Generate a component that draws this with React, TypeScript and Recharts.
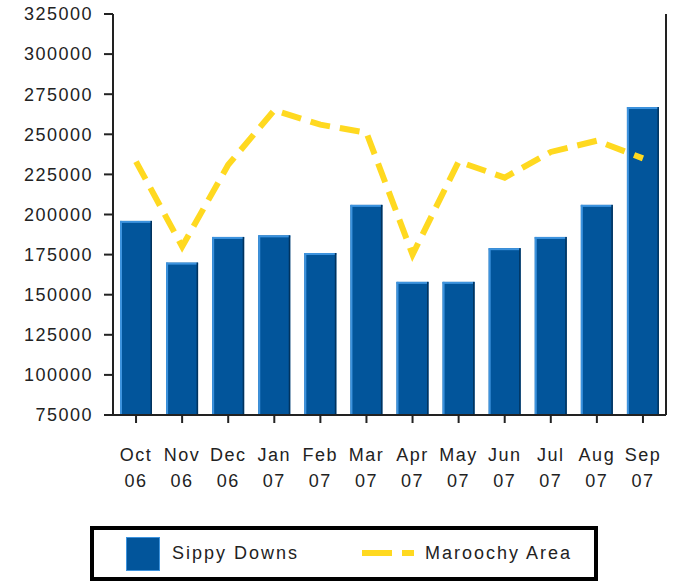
import React from 'react';
import {
  ComposedChart,
  Bar,
  Line,
  XAxis,
  YAxis,
  Legend
} from 'recharts';

const months = ['Oct', 'Nov', 'Dec', 'Jan', 'Feb', 'Mar', 'Apr', 'May', 'Jun', 'Jul', 'Aug', 'Sep'];
const years = ['06', '06', '06', '07', '07', '07', '07', '07', '07', '07', '07', '07'];
const sippyDowns = [196000, 170000, 186000, 187000, 176000, 206000, 158000, 158000, 179000, 186000, 206000, 267000];
const maroochyArea = [233000, 180000, 231000, 265000, 256000, 251000, 175000, 233000, 223000, 239000, 246000, 235000];
const yTicks = [75000, 100000, 125000, 150000, 175000, 200000, 225000, 250000, 275000, 300000, 325000];

const data = months.map((m, i) => ({
  label: `${m} ${years[i]}`,
  sippy: sippyDowns[i],
  maroochy: maroochyArea[i]
}));

const FONT = '"Liberation Sans", Arial, sans-serif';
const BLUE = '#02559b';
const YELLOW = '#ffd920';

const MonthTick = (props: any) => {
  const { x, y, payload } = props;
  const [m, yr] = String(payload.value).split(' ');
  return (
    <g>
      <text x={x} y={y + 36} textAnchor="middle" fontFamily={FONT} fontSize={18} letterSpacing={1.5} fill="#222">{m}</text>
      <text x={x} y={y + 62} textAnchor="middle" fontFamily={FONT} fontSize={18} letterSpacing={1.5} fill="#222">{yr}</text>
    </g>
  );
};

const BarShape = (props: any) => {
  const { x, y, width, height } = props;
  if (!height || height <= 0) return null;
  return (
    <g>
      <rect x={x} y={y} width={width} height={height} fill={BLUE} />
      <rect x={x} y={y} width={2} height={height} fill="#3d93de" />
      <rect x={x} y={y} width={width} height={2} fill="#3d93de" />
      <rect x={x + width - 1.5} y={y} width={1.5} height={height} fill="#01335e" />
    </g>
  );
};

const LegendBox = () => (
  <div style={{
    boxSizing: 'border-box',
    width: 508,
    height: 55,
    border: '4px solid #000',
    position: 'relative',
    fontFamily: FONT,
    fontSize: 18,
    letterSpacing: 2,
    color: '#222'
  }}>
    <div style={{ position: 'absolute', left: 32, top: 7, width: 34, height: 34, background: BLUE, border: '1px solid #3d93de', boxSizing: 'border-box' }} />
    <span style={{ position: 'absolute', left: 78, top: 13 }}>Sippy Downs</span>
    <svg style={{ position: 'absolute', left: 268, top: 18 }} width={52} height={10}>
      <line x1={0} y1={5} x2={52} y2={5} stroke={YELLOW} strokeWidth={6} strokeDasharray="30 10" />
    </svg>
    <span style={{ position: 'absolute', left: 331, top: 13 }}>Maroochy Area</span>
  </div>
);

export default function App() {
  return (
    <div style={{ position: 'absolute', left: 0, top: 0, background: '#fff' }}>
      <ComposedChart
        width={679}
        height={582}
        data={data}
        margin={{ top: 14, right: 12, left: 0, bottom: 82 }}
      >
        <XAxis
          dataKey="label"
          interval={0}
          tick={<MonthTick />}
          tickSize={8}
          height={85}
          axisLine={{ stroke: '#222', strokeWidth: 2 }}
          tickLine={{ stroke: '#222', strokeWidth: 2 }}
        />
        <YAxis
          yAxisId="l"
          domain={[75000, 325000]}
          ticks={yTicks}
          interval={0}
          width={113}
          tickSize={9}
          tickMargin={11}
          axisLine={{ stroke: '#222', strokeWidth: 2 }}
          tickLine={{ stroke: '#222', strokeWidth: 2 }}
          tick={{ fontFamily: FONT, fontSize: 18, letterSpacing: 1.5, fill: '#222' }}
        />
        <YAxis
          yAxisId="r"
          orientation="right"
          domain={[75000, 325000]}
          width={1}
          tick={false}
          tickLine={false}
          axisLine={{ stroke: '#222', strokeWidth: 2 }}
        />
        <Bar yAxisId="l" dataKey="sippy" name="Sippy Downs" barSize={32} shape={<BarShape />} fill={BLUE} isAnimationActive={false} />
        <Line
          yAxisId="l"
          type="linear"
          dataKey="maroochy"
          name="Maroochy Area"
          stroke={YELLOW}
          strokeWidth={6}
          strokeDasharray="20 10"
          dot={false}
          activeDot={false}
          isAnimationActive={false}
        />
        <Legend
          layout="horizontal"
          verticalAlign="middle"
          align="center"
          content={<LegendBox />}
          wrapperStyle={{ top: 526, left: 90, width: 508, height: 55 }}
        />
      </ComposedChart>
    </div>
  );
}
